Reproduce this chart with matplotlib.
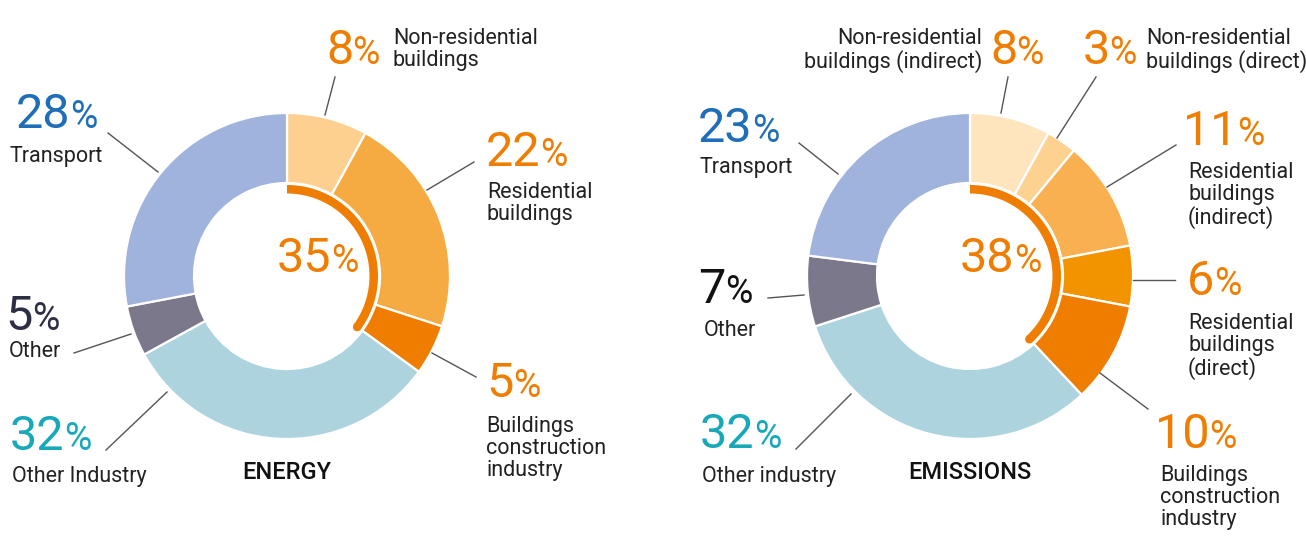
import numpy as np
import matplotlib
matplotlib.use("Agg")
import matplotlib.pyplot as plt
from matplotlib.patches import Wedge, Circle

plt.rcParams['font.family'] = ['Roboto', 'DejaVu Sans']

W, H = 1306, 538

# ---- data ----
energy_labels = ["Non-residential\nbuildings", "Residential\nbuildings",
                 "Buildings\nconstruction\nindustry", "Other Industry",
                 "Other", "Transport"]
energy_values = [8, 22, 5, 32, 5, 28]
energy_buildings = 35

emissions_labels = ["Non-residential\nbuildings (indirect)",
                    "Non-residential\nbuildings (direct)",
                    "Residential\nbuildings\n(indirect)",
                    "Residential\nbuildings\n(direct)",
                    "Buildings\nconstruction\nindustry",
                    "Other industry", "Other", "Transport"]
emissions_values = [8, 3, 11, 6, 10, 32, 7, 23]
emissions_buildings = 38

# ---- styles ----
ORANGE = "#EF7D00"
energy_colors = ["#FDD08F", "#F5AA42", "#EF7D00", "#ADD4DE", "#7B788B", "#A0B3DC"]
emissions_colors = ["#FEE5BE", "#FDD291", "#F8B050", "#F29400", "#EF7D00",
                    "#ADD4DE", "#7B788B", "#A0B3DC"]
energy_pct_colors = [ORANGE, ORANGE, ORANGE, "#17A8B9", "#2E2E45", "#1F6EB7"]
emissions_pct_colors = [ORANGE, ORANGE, ORANGE, ORANGE, ORANGE,
                        "#17A8B9", "#111111", "#1F6EB7"]

# layout in pixels (y from top): pct (x, baseline), label (x, top, ha), leader line
energy_layout = [
    ((326, 64), (393, 28, "left"), ((335, 77), (325, 115))),
    ((486, 166), (487, 182, "left"), ((474, 162), (427, 190))),
    ((486, 397), (486, 416, "left"), ((476, 377), (432, 353))),
    ((10, 450), (12, 466, "left"), ((106, 450), (167, 392))),
    ((5, 330), (9, 341, "left"), ((74, 353), (131, 334))),
    ((16, 128), (10, 146, "left"), ((108, 133), (158, 172))),
]
emissions_layout = [
    ((990, 64), (982, 28, "right"), ((1008, 77), (1001, 113))),
    ((1083, 64), (1146, 28, "left"), ((1096, 77), (1057, 138))),
    ((1183, 145), (1188, 162, "left"), ((1176, 145), (1107, 187))),
    ((1187, 295), (1188, 313, "left"), ((1175, 280), (1133, 280))),
    ((1155, 448), (1160, 465, "left"), ((1148, 409), (1100, 373))),
    ((700, 448), (702, 466, "left"), ((796, 449), (851, 394))),
    ((698, 303), (704, 320, "left"), ((768, 298), (804, 295))),
    ((698, 142), (700, 157, "left"), ((799, 143), (838, 174))),
]

R_OUT, R_IN = 163, 93
ARC_R, ARC_W = 91, 8.5
PCT_SIZE, SIGN_SIZE, LABEL_SIZE = 35, 27, 15.5


def Y(y):
    return H - y


fig = plt.figure(figsize=(W / 100, H / 100), dpi=100)
ax = fig.add_axes([0, 0, 1, 1])


def pct_text(x, y, value, color):
    t = ax.text(x, Y(y), str(value), fontsize=PCT_SIZE, color=color,
                ha="left", va="baseline")
    ax.annotate("%", xy=(1, 0), xycoords=t, xytext=(-0.5, 1.7),
                textcoords="offset points", fontsize=SIGN_SIZE, color=color,
                ha="left", va="bottom")
    return t


def donut(cx, cy, values, colors, labels, pct_colors, layout, share, title):
    ax.pie(values, colors=colors, startangle=90, counterclock=False,
           center=(cx, Y(cy)), radius=R_OUT,
           wedgeprops=dict(width=R_OUT - R_IN, edgecolor="white", linewidth=1.6))
    # inner arc for the buildings share
    t1 = 90 - 360 * share / 100
    ax.add_patch(Wedge((cx, Y(cy)), ARC_R, t1, 90, width=ARC_W,
                       facecolor=ORANGE, edgecolor="none"))
    rm = ARC_R - ARC_W / 2
    ax.add_patch(Circle((cx + rm * np.cos(np.radians(t1)),
                         Y(cy) + rm * np.sin(np.radians(t1))),
                        ARC_W / 2, facecolor=ORANGE, edgecolor="none"))
    pct_text(cx - 10, 272, share, ORANGE)

    for val, lab, pc, lay in zip(values, labels, pct_colors, layout):
        (px, py), (lx, ly, ha), (p1, p2) = lay
        pct_text(px, py, val, pc)
        ax.text(lx, Y(ly), lab, fontsize=LABEL_SIZE, color="#222222",
                ha=ha, va="top", multialignment=ha, linespacing=1.05)
        ax.plot([p1[0], p2[0]], [Y(p1[1]), Y(p2[1])], color="#555555", lw=1.0)

    ax.text(cx, Y(479), title, fontsize=17, fontweight="medium",
            color="#111111", ha="center", va="baseline")


donut(287, 276, energy_values, energy_colors, energy_labels,
      energy_pct_colors, energy_layout, energy_buildings, "ENERGY")
donut(970, 276, emissions_values, emissions_colors, emissions_labels,
      emissions_pct_colors, emissions_layout, emissions_buildings, "EMISSIONS")

ax.set_xlim(0, W)
ax.set_ylim(0, H)
ax.set_aspect("equal")
ax.axis("off")

fig.savefig("out.png", dpi=100, facecolor="white")
